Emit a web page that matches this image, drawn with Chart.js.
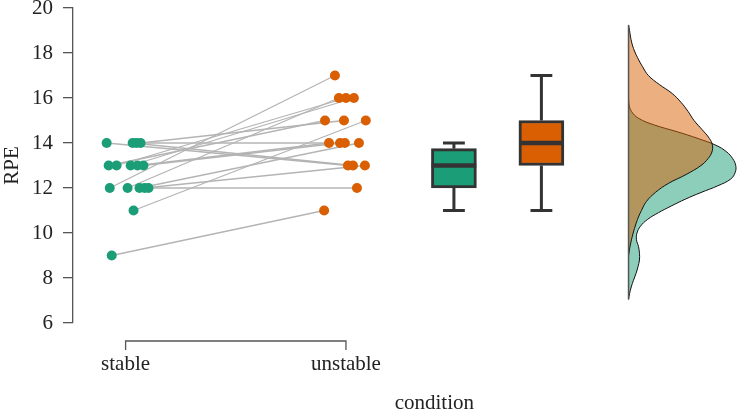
<!DOCTYPE html>
<html><head><meta charset="utf-8">
<script src="https://cdn.jsdelivr.net/npm/chart.js@4.4.1/dist/chart.umd.min.js"></script>
<style>html,body{margin:0;padding:0;background:#fff;overflow:hidden}</style>
</head><body>
<canvas id="c" width="744" height="412"></canvas>
<script>
// ---------- data ----------
const categories = ['stable', 'unstable'];
const stableRPE   = [9, 11, 12, 12, 12, 12, 12, 13, 13, 13, 13, 13, 14, 14, 14, 14];
const unstableRPE = [11, 15, 17, 16, 12, 14, 13, 16, 16, 15, 14, 14, 13, 13, 14, 15];
const stableJitter   = [0.937, 1.036, 0.928, 1.009, 1.104, 1.063, 1.086, 0.959, 1.023, 0.923, 1.054, 1.081, 0.914, 1.032, 1.050, 1.068];
const unstableJitter = [1.901, 2.090, 1.950, 1.968, 2.050, 2.059, 2.086, 2.000, 2.036, 1.905, 1.923, 1.973, 2.009, 2.032, 1.995, 1.991];

const yTicks = [6, 8, 10, 12, 14, 16, 18, 20];

const boxCenters = [2.49, 2.887];
const boxMin    = [11, 11];
const boxQ1     = [12, 13];
const boxMedian = [13, 14];
const boxQ3     = [13.75, 15];
const boxMax    = [14, 17];

const densStableRPE = [16.0, 15.7, 15.4, 15.1, 14.8, 14.5, 14.2, 13.9, 13.6, 13.3, 13.0, 12.7, 12.4, 12.1, 11.8, 11.5, 11.2, 10.9, 10.6, 10.3, 10.0, 9.7, 9.4, 9.1, 8.8, 8.5, 8.2, 7.9, 7.6, 7.3, 7.05];
const densStable    = [0, 0.005, 0.03, 0.10, 0.26, 0.49, 0.70, 0.88, 0.99, 1.05, 1.08, 1.075, 1.03, 0.90, 0.73, 0.57, 0.43, 0.30, 0.19, 0.12, 0.085, 0.08, 0.10, 0.11, 0.11, 0.095, 0.075, 0.05, 0.027, 0.01, 0];
const densUnstableRPE = [19.25, 19.0, 18.6, 18.2, 17.8, 17.4, 17.0, 16.6, 16.2, 15.8, 15.4, 15.0, 14.6, 14.2, 13.9, 13.6, 13.3, 13.0, 12.6, 12.2, 11.8, 11.4, 11.0, 10.6, 10.2, 9.8, 9.4, 9.0];
const densUnstable    = [0, 0.01, 0.025, 0.05, 0.09, 0.14, 0.20, 0.31, 0.44, 0.53, 0.60, 0.66, 0.74, 0.815, 0.845, 0.84, 0.80, 0.73, 0.58, 0.40, 0.27, 0.18, 0.13, 0.09, 0.06, 0.035, 0.015, 0];

// ---------- styling / layout ----------
const GREEN = '#1b9e77', ORANGE = '#d95f02';
const SERIF = "'Liberation Serif','DejaVu Serif','Times New Roman',serif";
const AXIS = '#555';
const FONT_SIZE = 21;
const PX_PER_UNIT = 222;
const DENS_BASE = 3.2825;          // x position of density baseline
const DENS_WIDTH = 100 / PX_PER_UNIT;
const BOX_HALF = 22.5 / PX_PER_UNIT;
const CAP_HALF = 11 / PX_PER_UNIT;

const datasets = [];

// points
datasets.push({type: 'scatter', data: stableRPE.map((v, i) => ({x: stableJitter[i], y: v})),
  backgroundColor: GREEN, borderColor: GREEN, pointRadius: 5, borderWidth: 0, order: 0});
datasets.push({type: 'scatter', data: unstableRPE.map((v, i) => ({x: unstableJitter[i], y: v})),
  backgroundColor: ORANGE, borderColor: ORANGE, pointRadius: 5, borderWidth: 0, order: 0});

// paired lines
stableRPE.forEach((v, i) => datasets.push({type: 'line',
  data: [{x: stableJitter[i], y: v}, {x: unstableJitter[i], y: unstableRPE[i]}],
  borderColor: '#b4b4b4', borderWidth: 1.3, pointRadius: 0, fill: false, order: 10}));

// boxes
datasets.push({type: 'bar', data: boxCenters.map((c, i) => ({x: c, y: [boxQ1[i], boxQ3[i]]})),
  backgroundColor: [GREEN, ORANGE], borderColor: '#333', borderWidth: 3, borderSkipped: false,
  barThickness: 45, order: 5});
const seg = (pts, w, ord) => ({type: 'line', data: pts, borderColor: '#333', borderWidth: w,
  pointRadius: 0, fill: false, order: ord, borderCapStyle: 'butt'});
boxCenters.forEach((c, i) => {
  datasets.push(seg([{x: c, y: boxQ3[i]}, {x: c, y: boxMax[i]}], 3, 6));
  datasets.push(seg([{x: c, y: boxQ1[i]}, {x: c, y: boxMin[i]}], 3, 6));
  datasets.push(seg([{x: c - CAP_HALF, y: boxMax[i]}, {x: c + CAP_HALF, y: boxMax[i]}], 3, 6));
  datasets.push(seg([{x: c - CAP_HALF, y: boxMin[i]}, {x: c + CAP_HALF, y: boxMin[i]}], 3, 6));
  datasets.push(seg([{x: c - BOX_HALF, y: boxMedian[i]}, {x: c + BOX_HALF, y: boxMedian[i]}], 4.5, 4));
});

// densities
const densDS = (rpe, d, color, ord) => ({type: 'line',
  data: rpe.map((v, i) => ({x: DENS_BASE + d[i] * DENS_WIDTH, y: v})),
  borderColor: '#111', borderWidth: 1, backgroundColor: color, fill: 'shape',
  tension: 0.4, pointRadius: 0, order: ord});
datasets.push(densDS(densStableRPE, densStable, 'rgba(27,158,119,0.5)', 21));
datasets.push(densDS(densUnstableRPE, densUnstable, 'rgba(217,95,2,0.5)', 20));
const densTop = Math.max(...densUnstableRPE, ...densStableRPE);
const densBot = Math.min(...densUnstableRPE, ...densStableRPE);
datasets.push({type: 'line', data: [{x: DENS_BASE, y: densTop}, {x: DENS_BASE, y: densBot}],
  borderColor: AXIS, borderWidth: 1.5, pointRadius: 0, fill: false, order: 19});

// bracket x axis + title plugin
const bracket = {
  id: 'bracket',
  afterDraw(chart) {
    const {ctx, scales: {x}, chartArea} = chart;
    const x1 = x.getPixelForValue(1), x2 = x.getPixelForValue(categories.length);
    const y0 = chartArea.bottom + 18, y1 = y0 + 9;
    ctx.save();
    ctx.strokeStyle = AXIS; ctx.lineWidth = 1.3;
    ctx.beginPath();
    ctx.moveTo(x1, y1); ctx.lineTo(x1, y0); ctx.lineTo(x2, y0); ctx.lineTo(x2, y1);
    ctx.stroke();
    ctx.fillStyle = '#222';
    ctx.font = FONT_SIZE + 'px ' + SERIF;
    ctx.textAlign = 'center'; ctx.textBaseline = 'middle';
    ctx.fillText('condition', (x1 + chartArea.right) / 2 + 2, 403);
    ctx.restore();
  }
};

new Chart(document.getElementById('c'), {
  data: {datasets},
  options: {
    responsive: false, animation: false, devicePixelRatio: 1,
    layout: {padding: {top: 8, left: 0, right: 0, bottom: 0}},
    plugins: {legend: {display: false}, tooltip: {enabled: false}},
    scales: {
      x: {
        type: 'linear', min: 1 - 53 / PX_PER_UNIT, max: 1 - 53 / PX_PER_UNIT + 671 / PX_PER_UNIT,
        offset: false,
        grid: {display: false, drawTicks: false}, border: {display: false},
        afterBuildTicks: s => { s.ticks = categories.map((c, i) => ({value: i + 1})); },
        afterFit: s => { s.height = 89; s.paddingLeft = 0; s.paddingRight = 0; },
        ticks: {autoSkip: false, maxRotation: 0, padding: 29, color: '#222',
          font: {family: SERIF, size: FONT_SIZE},
          callback: v => categories[Math.round(v) - 1] || ''}
      },
      y: {
        type: 'linear', min: 6, max: 20,
        afterBuildTicks: s => { s.ticks = yTicks.map(v => ({value: v})); },
        afterFit: s => { s.width = 73; s.paddingTop = 0; s.paddingBottom = 0; },
        grid: {display: true, drawOnChartArea: false, drawTicks: true, tickLength: 10, color: AXIS, lineWidth: 1.3},
        border: {display: true, color: AXIS, width: 1.3},
        ticks: {padding: 10, color: '#222', font: {family: SERIF, size: FONT_SIZE}},
        title: {display: true, text: 'RPE', color: '#222', font: {family: SERIF, size: FONT_SIZE}, padding: 0}
      }
    }
  },
  plugins: [bracket]
});
</script>
</body></html>
